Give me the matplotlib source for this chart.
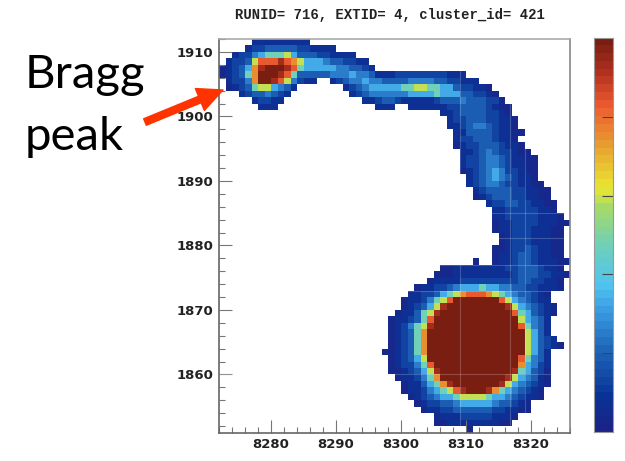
import numpy as np
import matplotlib
matplotlib.use('Agg')
import matplotlib.pyplot as plt
from matplotlib.colors import LinearSegmentedColormap
from matplotlib.ticker import MultipleLocator

# heat map, one entry per row from the top (y = 1912 downwards)
# each row: (first x bin, level codes), level codes are hex digits 0..b
x_first = 8272
x_last = 8326
y_top = 1912
y_bottom = 1851

rows = [
    [(5, "111111111")],
    [(4, "12233333221111")],
    [(2, "1224566675333221111")],
    [(1, "12237999a9875554332211")],
    [(0, "012358abbba9655555443321")],
    [(0, "012368bbba9633333444544311122222222111")],
    [(1, "12248bba974211"), (17, "12344544333344443322111")],
    [(1, "01236775431"), (19, "12345555566776655322110")],
    [(3, "12334321"), (20, "12344444455556555332210")],
    [(5, "12211"), (22, "1123321111123334333220")],
    [(6, "111"), (24, "111"), (29, "1111112233332100")],
    [(34, "11233332210")],
    [(35, "12233322110")],
    [(35, "11234432110")],
    [(36, "11333321100")],
    [(36, "1223332110")],
    [(36, "01223332110")],
    [(37, "11234322100")],
    [(37, "122344321100")],
    [(37, "122344321100")],
    [(37, "012345422100")],
    [(38, "12345432110")],
    [(38, "123443221100")],
    [(39, "123333221100")],
    [(39, "012333221100")],
    [(41, "12233221100")],
    [(42, "1122222110")],
    [(42, "11222221110")],
    [(42, "011222211100")],
    [(42, "01122211100")],
    [(43, "0122211100")],
    [(43, "0122211100")],
    [(42, "00122321100")],
    [(42, "01123321100")],
    [(39, "0"), (42, "011233211100")],
    [(34, "0011111111223332110")],
    [(33, "000111111111233322110")],
    [(32, "011112222222223322110")],
    [(30, "01122345556554433221110")],
    [(29, "1122356789998765433210")],
    [(28, "01124679bbbbbbb97543211")],
    [(28, "012357abbbbbbbbba7543210")],
    [(27, "011367abbbbbbbbbbb9653210")],
    [(26, "0112369bbbbbbbbbbbbb75431")],
    [(26, "012467abbbbbbbbbbbbb96431")],
    [(26, "012368bbbbbbbbbbbbbbb7531")],
    [(26, "012368bbbbbbbbbbbbbbb75321")],
    [(26, "012368bbbbbbbbbbbbbbb753210")],
    [(25, "0012368bbbbbbbbbbbbbbb7531")],
    [(26, "012357bbbbbbbbbbbbbb96431")],
    [(26, "0122469bbbbbbbbbbbbb85421")],
    [(26, "0012357abbbbbbbbbbba65320")],
    [(27, "0112468bbbbbbbbbba754310")],
    [(28, "0113568abbbbbbba7543210")],
    [(28, "011245679abbba86543210")],
    [(29, "012345567777655432110")],
    [(30, "012233455555433210")],
    [(31, "01122333333221100")],
    [(33, "0111222221110")],
    [(33, "001111111100")],
    [(38, "0")],
]
level_values = [0.03, 0.07, 0.12, 0.18, 0.24, 0.33, 0.47, 0.59, 0.74, 0.83, 0.92, 1.0]

x_major = [8280, 8290, 8300, 8310, 8320]
y_major = [1860, 1870, 1880, 1890, 1900, 1910]
# faint pale lines that run through the filled cells
pale_x = [8309, 8316.8, 8319]
pale_y = [1885, 1881.1, 1877, 1873, 1860]
title_text = "RUNID= 716, EXTID= 4, cluster_id= 421"

# palette taken from the colour bar
palette = [(0.00, '#1a2488'), (0.08, '#0a3296'), (0.20, '#1e64b8'), (0.30, '#3a9ae0'),
           (0.37, '#50c4f0'), (0.47, '#70d0b8'), (0.57, '#a4da6c'), (0.62, '#e8e832'),
           (0.74, '#e89830'), (0.83, '#ee5c30'), (0.92, '#b03020'), (1.00, '#7a1e12')]
cmap = LinearSegmentedColormap.from_list('bar', palette, N=50)

W, H = 625, 461
fig = plt.figure(figsize=(W / 100, H / 100), dpi=100)


def px_axes(left, top, right, bottom):
    return fig.add_axes([left / W, 1 - bottom / H, (right - left) / W, (bottom - top) / H])


# 网格
grid = np.full((y_top - y_bottom, x_last - x_first), np.nan)
for r, segs in enumerate(rows):
    for start, codes in segs:
        for k, ch in enumerate(codes):
            grid[r, start + k] = level_values[int(ch, 16)]

ax = px_axes(219, 39, 570, 432.5)
x_edges = np.arange(x_first, x_last + 1)
y_edges = np.arange(y_top, y_bottom - 1, -1)
ax.pcolormesh(x_edges, y_edges, np.ma.masked_invalid(grid), cmap=cmap, vmin=0, vmax=1)
for v in pale_x:
    ax.axvline(v, color='white', lw=0.8, alpha=0.2)
for v in pale_y:
    ax.axhline(v, color='white', lw=0.8, alpha=0.2)
ax.set_xlim(x_first, x_last)
ax.set_ylim(y_bottom, y_top)

ax.xaxis.set_minor_locator(MultipleLocator(2))
ax.yaxis.set_minor_locator(MultipleLocator(2))
ax.set_xticks(x_major)
ax.set_yticks(y_major)
ax.tick_params(which='major', direction='in', length=9.5, width=0.8, color='#777777',
               labelsize=9.5, pad=4)
ax.tick_params(which='minor', direction='in', length=4.5, width=0.8, color='#777777')
for lab in ax.get_xticklabels() + ax.get_yticklabels():
    lab.set_fontweight('bold')
    lab.set_color('#222222')
ax.spines['left'].set_color('#666666')
ax.spines['bottom'].set_color('#666666')
ax.spines['right'].set_color('#888888')
ax.spines['top'].set_color('#aaaaaa')
for s in ax.spines.values():
    s.set_linewidth(1.2)

# 色标
cax = px_axes(594, 38, 613, 432)
cax.imshow(np.linspace(1, 0, 50).reshape(-1, 1), cmap=cmap, vmin=0, vmax=1,
           aspect='auto', extent=[0, 1, 0, 1])
cax.set_xticks([])
cax.yaxis.tick_right()
cax.set_yticks([0.2, 0.4, 0.6, 0.8])
cax.set_yticklabels([])
cax.tick_params(axis='y', direction='in', length=8, width=0.8, color='#444444')
for s in cax.spines.values():
    s.set_color('#999999')
    s.set_linewidth(0.8)

# 文字和箭头
over = fig.add_axes([0, 0, 1, 1], zorder=5)
over.set_xlim(0, W)
over.set_ylim(H, 0)
over.axis('off')
over.text(390, 15, title_text, family='Liberation Mono', fontweight='bold', fontsize=10,
          ha='center', va='center', color='#222222')
over.text(25, 88, "Bragg", family='Lato', fontsize=34, color='black', ha='left', va='baseline')
over.text(25, 150, "peak", family='Lato', fontsize=34, color='black', ha='left', va='baseline')
over.annotate('', xy=(223, 90), xytext=(145, 122),
              arrowprops=dict(width=5, headwidth=17, headlength=18, color='#ff3300', shrink=0))

fig.savefig('out.png', dpi=100)
